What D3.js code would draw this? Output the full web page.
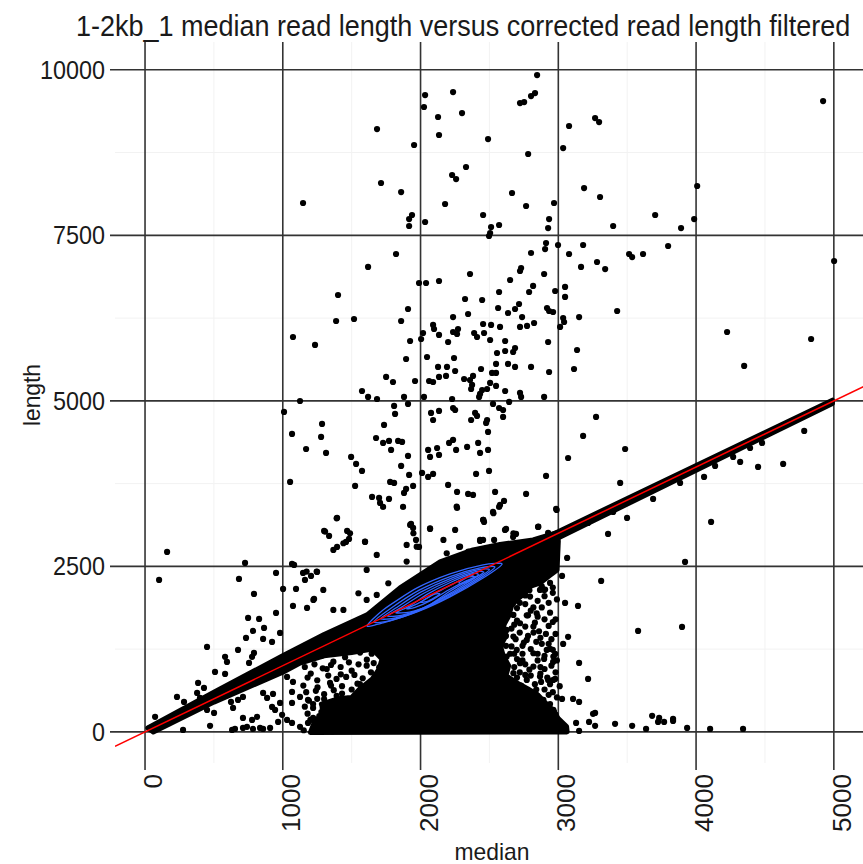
<!DOCTYPE html>
<html>
<head>
<meta charset="utf-8">
<script src="https://cdn.jsdelivr.net/npm/d3@7"></script>
<style>
  body { margin: 0; background: #fff; }
  text { font-family: "Liberation Sans", Arial, sans-serif; fill: #1a1a1a; }
</style>
</head>
<body>
<div id="chart"></div>
<script>
// Chart text
const chartTitle = "1-2kb_1 median read length versus corrected read length filtered";
const xLabel = "median";
const yLabel = "length";

// Axis ticks
const xTicks = [0, 1000, 2000, 3000, 4000, 5000];
const xMinor = [500, 1500, 2500, 3500, 4500];
const yTicks = [0, 2500, 5000, 7500, 10000];
const yMinor = [1250, 3750, 6250, 8750];

// Scattered reads (median, length)
const sparsePoints = [
  [2846,9920],[2802,9604],[2722,9498],[2236,9664],[2033,9619],[2025,9438],[2301,9347],[2127,9287],
  [2134,9015],[1684,9105],[1953,8864],[2490,8954],[2752,9513],[2831,9649],[3078,9151],[3267,9271],
  [3296,9211],[3035,8818],[2781,8728],[2330,8532],[2229,8411],[2258,8350],[1713,8290],[1859,8154],
  [1147,7988],[2178,7973],[2664,8139],[2766,7943],[2969,7988],[3187,8214],[3303,8079],[3398,7641],
  [1938,7807],[1917,7746],[1917,7641],[2033,7701],[2454,7807],[2512,7626],[2570,7656],[2497,7490],
  [2505,7535],[2933,7746],[2926,7610],[2911,7384],[2998,7354],[2904,7293],[2802,7233],[3180,7354],
  [3078,7218],[3514,7218],[3536,7172],[3615,7218],[1822,7218],[1619,7022],[3165,7022],[3281,7097],
  [3340,6991],[2730,7006],[2722,6961],[2897,6916],[2359,6916],[1989,6780],[2040,6780],[2134,6810],
  [1401,6599],[2650,6825],[2817,6735],[2788,6644],[2977,6659],[3049,6720],[3049,6569],[2570,6644],
  [2323,6538],[2447,6523],[1909,6387],[1387,6206],[1517,6236],[1859,6206],[2563,6402],[2635,6327],
  [2686,6387],[2715,6463],[2345,6312],[2236,6266],[2737,6266],[2918,6402],[2933,6357],[2962,6342],
  [3035,6251],[3042,6191],[3151,6266],[3427,6357],[1074,5964],[1234,5844],[2091,6146],[2098,6085],
  [2134,5995],[2018,6025],[2004,5934],[1924,5904],[2236,6040],[2265,6010],[2272,6085],[2200,5889],
  [2389,6025],[2410,5964],[2454,6161],[2512,6146],[2461,6025],[2505,5919],[2577,6116],[2722,6116],
  [2773,6131],[2824,6176],[2614,5904],[2926,5889],[3013,6116],[3136,5768],[2555,5723],[2614,5753],
  [2672,5738],[2686,5798],[1895,5632],[2047,5662],[2243,5647],
  [2127,5512],[2192,5512],[2251,5451],[2439,5481],[2519,5421],[2548,5421],[2548,5557],[2635,5557],
  [2686,5512],[2802,5512],[2933,5436],[3114,5481],[1750,5361],[1800,5285],[1960,5300],[2062,5300],
  [2091,5285],[2134,5361],[2185,5376],[2316,5330],[2359,5315],[2381,5376],[2374,5240],[2505,5270],
  [2548,5225],[2447,5164],[2483,5179],[2367,5179],[2614,5149],[2722,5119],[2730,5059],[2897,5059],
  [1575,5149],[1619,5059],[1684,5028],[1880,5059],[1909,4953],[1808,4923],[1815,4802],[2025,5059],
  [2229,5028],[2236,4892],[2251,4862],[2425,5059],[2432,5104],[2526,4953],[2570,4892],[2599,4862],
  [2599,4757],[2643,4983],[1125,4998],[1009,4832],[2076,4817],[2134,4847],[2091,4711],[2396,4817],
  [2410,4772],[2367,4711],[2483,4711],[2476,4666],[2490,4530],[3274,4757],[1285,4651],[1278,4455],
  [1067,4500],[1735,4636],[1677,4439],[1728,4364],[1771,4394],[1837,4394],[1866,4379],[1786,4258],
  [2236,4409],[2207,4364],[2258,4258],[2338,4304],[2418,4364],[2432,4213],[2490,4258],[2055,4258],
  [2120,4288],[2134,4183],[2069,4153],[3180,4470],[3485,4273],[1169,4273],[1314,4213],[1496,4153],
  [1532,4047],[1575,3941],[1909,4168],[3071,4137],[1859,4017],[1917,3881],[2011,3911],[2091,3896],
  [2055,3851],[2403,3896],[2497,3941],[2911,3866],[1053,3775],[1779,3775],[1808,3760],[1525,3715],
  [1946,3715],[1895,3669],[1880,3609],[2200,3730],[2265,3624],[2345,3594],[2381,3579],[2541,3624],
  [2766,3594],[3449,3760],[1648,3549],[1699,3533],[1706,3458],[1728,3398],[1771,3518],[1873,3398],
  [2265,3382],[2606,3488],[2570,3398],[2526,3322],[2984,3367],[2454,3201],[2461,3171],[1394,3231],
  [1931,3141],[1946,3080],[2069,3065],[2251,3050],[2621,3065],[2693,2990],[2672,2945],[2853,3096],
  [2926,3005],[3361,2990],[3499,3231],[1300,3035],[1336,2960],[1467,3035],[1481,2914],[1459,2869],
  [1394,2794],[1597,2869],[1967,2899],[1989,2794],[2280,2794],[2432,2884],[2454,2899],[2534,2899],
  [4349,5527],[3688,3518],[3884,3760],[4058,3851],[4109,3171],[4320,4077],[4450,4002],[4632,4047],
  [4785,4545],[4392,4288],[4479,4364],[4269,4153],[4138,4017],[3398,3322],[3216,3156],[3064,2627],
  [3920,2567],[3311,2280],[3027,2356],[2897,2144],[3049,1948],[3143,1903],[3579,1525],[3898,1586],
  [3071,1435],[3035,1329],[2940,1253],[2977,1178],[2897,1102],[2962,1057],[3151,1042],[3216,800],
  [2926,785],[2977,800],[2875,755],[3027,498],[3107,498],[3151,453],[3267,287],[2969,302],
  [3681,242],[3732,211],[3833,196],[3129,136],[3151,15],[3252,272],[3223,151],[3267,91],
  [3412,121],[3536,91],[3637,45],[3724,151],[3768,151],[3833,166],[3935,60],[4102,45],[4341,45],
  [4922,9528],[4008,8245],[3986,7746],[3891,7610],[3703,7807],[3797,7339],[5002,7112],[4225,6040],
  [4835,5934],
  [160,2718],[102,2295],[726,2552],[682,2310],[951,2401],[1067,2537],[1082,2522],[1147,2401],
  [1205,2356],[1249,2416],[791,2084],[1002,2159],[1096,2159],[1074,1903],[1176,1872],[1227,2008],
  [951,1797],[748,1721],[828,1706],[864,1570],[784,1525],[733,1419],[857,1404],[922,1359],
  [980,1495],[450,1283],[675,1238],[581,1133],[595,1057],[791,1193],[777,1133],[755,1042],
  [508,906],[581,876],[385,740],[428,664],[378,589],[399,513],[232,528],[283,453],
  [450,332],[501,287],[472,91],[276,30],[73,227],[58,76],[36,60],[624,453],[675,483],[711,528],
  [639,362],[632,30],[653,45],[711,60],[740,76],[784,45],[835,60],[857,45],[908,60],
  [711,211],[777,181],[813,227],[857,589],[886,513],[929,574],[922,377],[944,332],[980,438],
  [995,257],[1031,181],[966,151],[1067,136],[1125,76],[1183,136],[1220,211],[1031,830],[1074,755],
  [1067,604],[1125,528],[1183,483],[1220,362],[1067,438]
];

// Crowded reads around the main cluster
const clusterPoints = [
  [2819,2245],[2867,2144],[2904,2150],[2795,2043],[2698,1993],[2625,1892],[2819,1880],[2674,1767],
  [2771,1760],[2843,1792],[2577,1742],[2722,1641],[2819,1590],[2625,1540],[2529,1490],[2674,1440],
  [2771,1389],[2577,1339],[2698,1238],[2819,1188],[2916,1238],[2964,1138],[2625,1138],[2529,1037],
  [2722,1037],[2819,987],[2674,886],[2577,785],[2771,785],[2867,836],[2964,785],[2674,685],
  [2795,584],[2892,483],[2698,433],[2819,383],[2964,332],[2625,282],[2771,232],[2916,181],
  [2867,81],[2698,81],[3013,131],[2577,181],[2480,282],[2480,483],
  [2610,2150],[2650,2080],[2700,2130],[2760,2060],[2880,2200],[2940,2250],[2960,2100],[2900,2050],
  [2850,1980],[2760,1930],[2700,1870],[2640,1820],[2600,1600],[2660,1560],[2720,1500],[2780,1450],
  [2860,1520],[2930,1600],[2980,1700],[2900,1700],[2830,1650],[2620,1300],[2650,1180],[2740,1300],
  [2800,1250],[2880,1330],[2950,1400],[2600,1050],[2700,1100],[2760,1020],[2850,1080],[2900,950],
  [2980,900],[2620,920],[2720,900],[2800,850],[2640,760],[2730,700],[2830,720],[2900,640],
  [2960,600],[2610,640],[2690,560],[2760,500],[2840,560],[2940,420],[2600,520],[2650,380],
  [2720,330],[2860,300],[2900,240],[2980,260],[2620,130],[2660,40],[2740,120],[2800,60],
  [2880,20],[2950,110],[3000,40],[2590,350],[2680,240],[2620,1450],[2700,1680],[2780,1760],
  [2880,1880],[2930,1950],[2990,2000],[2940,1800],[2870,1420],[2960,1240],[2680,980],[2870,880],
  [2940,720],[2780,380],[2700,160],
  [2690,1400],[2750,1350],[2680,1180],[2740,1180],[2700,820],[2760,860],[2950,1000],[2900,1150],
  [2820,1500],[2760,1590],[2680,1620],[2720,1950],[2800,1830],[2960,2180],[2980,1480],[2930,1330],
  [2870,980],[2920,820],[2840,640],[2990,520],[2930,560],[3010,690],[2790,940],[2850,1180],
  [2740,1080],[2660,1290],[2990,1080],[2910,1480],[2840,1360],[2960,1660],[2850,1740],[2790,2140],
  [1173,1087],[1281,1150],[1367,1060],[1452,1128],[1561,1198],[1645,1180],[1203,880],[1319,950],
  [1421,870],[1500,925],[1609,1000],[1700,975],[1149,700],[1252,672],[1343,740],[1430,690],
  [1542,728],[1638,670],[1722,790],[1190,470],[1300,495],[1391,545],[1480,478],[1590,530],
  [1676,470],[1180,275],[1265,240],[1360,290],[1470,270],[1555,340],[1650,290],[1228,90],
  [1322,40],[1410,85],[1518,70],[1605,38],[1700,90],[1152,25],
  [1160,980],[1230,1020],[1290,960],[1350,1010],[1420,980],[1480,1050],[1550,1020],[1610,1090],
  [1660,1040],[1180,820],[1250,780],[1330,850],[1390,800],[1460,830],[1520,860],[1580,810],
  [1640,900],[1690,860],[1170,600],[1240,620],[1300,570],[1370,630],[1430,580],[1500,640],
  [1560,590],[1620,640],[1680,600],[1160,380],[1220,420],[1290,360],[1340,410],[1410,380],
  [1470,420],[1530,370],[1600,410],[1660,360],[1200,180],[1260,150],[1330,200],[1390,160],
  [1450,190],[1520,150],[1580,210],[1640,170],[1690,220],[1240,20],[1360,10],[1440,40],
  [1560,20],[1620,60],[1280,300],[1500,300],[1350,700],[1560,720],[1470,500],[1250,500],
  [1640,500],[1700,300],
  [1173,2421],[1246,2421],[1161,2295],[1222,1993],[1294,2144],[1367,1842],[1440,1842],[1549,2094],
  [1609,1993],[1682,2069],[1766,2245],[1899,2572],[1924,3126],[1948,3000],[2069,3075],[1972,2798],
  [2190,2698],[2287,2798],[2347,2723],[2262,3402],[2456,3201],[2529,3302],[2577,3428],[2613,3050],
  [2674,3000],[2432,2899],[2855,3100],[1682,2673],[1597,2874],[1440,2849],[1367,2748],[1488,3000],
  [1307,3025],[1391,3226],[1609,2446],[2166,2899],[1899,2824],[2988,3352]
];

// Solid regions where the reads overlap completely (outlines)
const solidRegions = [
  // lower diagonal band and main mass
  [[20,60],[500,600],[1000,1150],[1300,1470],[1612,1767],[1851,2174],[2142,2567],[2381,2748],
   [2577,2830],[2817,2900],[2991,3010],[3000,2880],[2991,2446],[2930,2350],[2870,2250],[2800,2200],
   [2760,2100],[2700,2000],[2660,1900],[2640,1750],[2600,1600],[2620,1450],[2580,1300],[2600,1150],
   [2640,1000],[2620,850],[2700,740],[2780,650],[2850,560],[2900,450],[2960,330],[3000,200],
   [3060,80],[3064,0],[1200,-10],[1230,150],[1300,300],[1280,420],[1400,500],[1500,520],
   [1560,650],[1650,800],[1700,950],[1720,1100],[1650,1250],[1500,1200],[1300,1150],[1125,1040],
   [1000,900],[500,450],[60,0]],
  // upper diagonal band
  [[2950,2975],[4990,5010],[4990,4960],[2950,2880]]
];

// Density contours (blue)
const contours = [
  [[1612,1601],[1728,1842],[1975,2174],[2214,2386],[2454,2522],[2592,2537],[2454,2325],[2214,2039],[1975,1812],[1728,1646]],
  [[1660,1660],[1780,1860],[1990,2140],[2220,2350],[2440,2480],[2540,2490],[2440,2330],[2220,2060],[1990,1830],[1780,1680]],
  [[1710,1710],[1820,1870],[2000,2110],[2220,2320],[2420,2450],[2500,2450],[2420,2330],[2220,2080],[2000,1850],[1820,1720]],
  [[1760,1750],[1860,1880],[2020,2090],[2220,2290],[2400,2420],[2460,2410],[2390,2320],[2220,2100],[2020,1870],[1860,1760]],
  [[1820,1800],[1920,1900],[2050,2080],[2220,2260],[2380,2390],[2420,2370],[2360,2300],[2210,2120],[2050,1900],[1920,1810]],
  [[1900,1860],[2000,1960],[2120,2110],[2240,2240],[2360,2360],[2390,2330],[2320,2270],[2200,2140],[2080,1990],[1960,1880]],
  [[2280,2260],[2350,2340],[2400,2340],[2360,2280],[2300,2240]],
  [[2000,1960],[2100,2080],[2140,2080],[2060,1980]]
];

// Layout
const width = 863, height = 864;
const panel = { left: 115, right: 868, top: 42, bottom: 763 };

const svg = d3.select("#chart").append("svg")
    .attr("width", width)
    .attr("height", height);

const x = d3.scaleLinear().domain([-218, 5248]).range([panel.left, panel.right]);
const y = d3.scaleLinear().domain([-470, 10420]).range([panel.bottom, panel.top]);

svg.append("defs").append("clipPath").attr("id", "clip")
  .append("rect")
    .attr("x", panel.left).attr("y", panel.top)
    .attr("width", panel.right - panel.left)
    .attr("height", panel.bottom - panel.top);

// Minor grid
svg.append("g").selectAll("line").data(xMinor).join("line")
    .attr("x1", d => x(d)).attr("x2", d => x(d))
    .attr("y1", panel.top).attr("y2", panel.bottom)
    .attr("stroke", "#f2f2f2").attr("stroke-width", 1);
svg.append("g").selectAll("line").data(yMinor).join("line")
    .attr("y1", d => y(d)).attr("y2", d => y(d))
    .attr("x1", panel.left).attr("x2", panel.right)
    .attr("stroke", "#f2f2f2").attr("stroke-width", 1);

// Major grid, with the small tick stubs outside the panel
svg.append("g").selectAll("line").data(xTicks).join("line")
    .attr("x1", d => x(d)).attr("x2", d => x(d))
    .attr("y1", panel.top).attr("y2", panel.bottom + 7)
    .attr("stroke", "#333").attr("stroke-width", 1.6);
svg.append("g").selectAll("line").data(yTicks).join("line")
    .attr("y1", d => y(d)).attr("y2", d => y(d))
    .attr("x1", panel.left - 5).attr("x2", panel.right)
    .attr("stroke", "#333").attr("stroke-width", 1.6);

const plot = svg.append("g").attr("clip-path", "url(#clip)");

// Solid overlap regions
plot.append("g").selectAll("path").data(solidRegions).join("path")
    .attr("d", d => "M" + d.map(p => x(p[0]) + "," + y(p[1])).join("L") + "Z")
    .attr("fill", "#000")
    .attr("stroke", "#000")
    .attr("stroke-width", 5)
    .attr("stroke-linejoin", "round");

// Points
plot.append("g").selectAll("circle").data(sparsePoints.concat(clusterPoints)).join("circle")
    .attr("cx", d => x(d[0]))
    .attr("cy", d => y(d[1]))
    .attr("r", 3.1)
    .attr("fill", "#000");

// Density contours
const contourLine = d3.line()
    .x(d => x(d[0])).y(d => y(d[1]))
    .curve(d3.curveCardinalClosed.tension(0.3));
plot.append("g").selectAll("path").data(contours).join("path")
    .attr("d", contourLine)
    .attr("fill", "none")
    .attr("stroke", "#3366FF")
    .attr("stroke-width", 1.3);

// y = x reference line
plot.append("line")
    .attr("x1", x(-218)).attr("y1", y(-218))
    .attr("x2", x(5248)).attr("y2", y(5248))
    .attr("stroke", "#ff0000")
    .attr("stroke-width", 1.5);

// Tick labels (condensed face, widths matched to the picture)
svg.append("g").selectAll("text").data(yTicks).join("text")
    .attr("x", panel.left - 10)
    .attr("y", d => y(d))
    .attr("dy", "0.36em")
    .attr("text-anchor", "end")
    .attr("font-size", 25)
    .attr("textLength", d => String(d).length * 13)
    .attr("lengthAdjust", "spacingAndGlyphs")
    .text(d => d);

svg.append("g").selectAll("text").data(xTicks).join("text")
    .attr("transform", d => `translate(${x(d) + 8},${panel.bottom + 11}) rotate(-90)`)
    .attr("dy", "0.36em")
    .attr("text-anchor", "end")
    .attr("font-size", 25)
    .attr("textLength", d => String(d).length * 14.5)
    .attr("lengthAdjust", "spacingAndGlyphs")
    .text(d => d);

// Axis titles
svg.append("text")
    .attr("x", 492).attr("y", 860)
    .attr("text-anchor", "middle")
    .attr("font-size", 24)
    .attr("textLength", 75)
    .attr("lengthAdjust", "spacingAndGlyphs")
    .text(xLabel);

svg.append("text")
    .attr("transform", "translate(31,395) rotate(-90)")
    .attr("dy", "0.36em")
    .attr("text-anchor", "middle")
    .attr("font-size", 24)
    .attr("textLength", 62)
    .attr("lengthAdjust", "spacingAndGlyphs")
    .text(yLabel);

// Title, squeezed horizontally like the condensed face in the picture
svg.append("text")
    .attr("transform", "translate(76,36) scale(0.88,1)")
    .attr("font-size", 29)
    .attr("textLength", 880)
    .attr("lengthAdjust", "spacingAndGlyphs")
    .text(chartTitle);
</script>
</body>
</html>
